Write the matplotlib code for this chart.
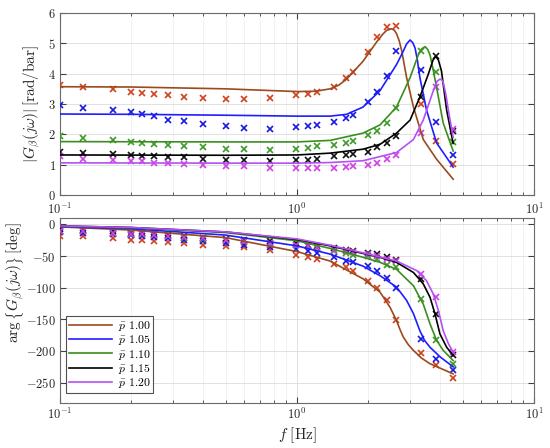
import matplotlib
matplotlib.use("Agg")
import matplotlib.pyplot as plt
from matplotlib.ticker import LogLocator, NullFormatter, FixedLocator

plt.rcParams['font.family'] = 'serif'
plt.rcParams['font.serif'] = ['cmr10', 'DejaVu Serif']
plt.rcParams['mathtext.fontset'] = 'cm'
plt.rcParams['axes.formatter.use_mathtext'] = True
plt.rcParams['axes.unicode_minus'] = False

# ---------------- data ----------------
labels = [r"$\bar{p}$ 1.00", r"$\bar{p}$ 1.05", r"$\bar{p}$ 1.10", r"$\bar{p}$ 1.15", r"$\bar{p}$ 1.20"]
line_colors = ['#9A4A1C', '#1E1EFF', '#3A8E1E', '#000000', '#B450F5']
marker_colors = ['#D2401E', '#1818E0', '#3C9A28', '#111111', '#D040E6']

# measured frequencies [Hz]
f_meas = [0.1, 0.125, 0.167, 0.2, 0.222, 0.25, 0.286, 0.333, 0.4, 0.5, 0.6, 0.77,
          0.99, 1.11, 1.22, 1.43, 1.61, 1.73, 2.0, 2.18, 2.39, 2.62, 3.33, 3.86, 4.56]

# measured magnitudes [rad/bar]
mag_100 = [3.64, 3.57, 3.48, 3.40, 3.37, 3.32, 3.29, 3.23, 3.19, 3.15, 3.15, 3.19,
           3.30, 3.34, 3.41, 3.57, 3.86, 4.07, 4.71, 5.21, 5.53, 5.56, 2.99, 1.78, 1.03]
mag_105 = [2.96, 2.88, 2.79, 2.72, 2.66, 2.59, 2.48, 2.44, 2.35, 2.28, 2.22, 2.19,
           2.25, 2.28, 2.31, 2.42, 2.54, 2.65, 3.05, 3.40, 3.91, 4.75, 4.12, 2.40, 1.31]
mag_110 = [1.95, 1.87, 1.80, 1.75, 1.71, 1.68, 1.64, 1.62, 1.57, 1.53, 1.51, 1.49,
           1.51, 1.54, 1.60, 1.65, 1.71, 1.79, 1.97, 2.11, 2.39, 2.86, 4.75, 4.04, 1.75]
mag_115 = [1.42, 1.38, 1.35, 1.33, 1.30, 1.27, 1.24, 1.24, 1.18, 1.15, 1.15, 1.13,
           1.15, 1.16, 1.20, 1.29, 1.31, 1.35, 1.43, 1.57, 1.71, 1.95, 3.24, 4.58, 2.10]
mag_120 = [1.29, 1.20, 1.16, 1.13, 1.11, 1.07, 1.05, 1.02, 0.99, 0.94, 0.94, 0.88,
           0.88, 0.88, 0.88, 0.88, 0.91, 0.94, 1.00, 1.05, 1.18, 1.33, 2.05, 3.55, 2.17]

# measured phases [deg]
ph_100 = [-18, -19, -21, -24, -25, -27, -28, -30, -32, -34, -36, -40,
          -48, -51, -55, -63, -68, -73, -89, -101, -119, -151, -203, -222, -243]
ph_105 = [-12, -13, -15, -17, -18, -20, -22, -24, -27, -30, -32, -36,
          -39, -42, -45, -52, -58, -60, -66, -73, -84, -100, -181, -213, -230]
ph_110 = [-10, -11, -13, -15, -16, -17, -19, -21, -23, -25, -27, -30,
          -32, -34, -37, -42, -46, -48, -50, -55, -64, -68, -118, -182, -220]
ph_115 = [-8, -9, -11, -13, -14, -15, -17, -19, -21, -23, -24, -27,
          -30, -32, -34, -38, -40, -42, -45, -47, -52, -56, -87, -141, -206]
ph_120 = [-10, -11, -13, -15, -15, -17, -18, -20, -22, -24, -26, -29,
          -33, -34, -36, -40, -42, -44, -47, -50, -55, -58, -79, -114, -202]

# model curves (magnitude)
fm_100 = [0.1, 0.2, 0.5, 1.0, 1.2, 1.38, 1.5, 1.62, 1.9, 2.17, 2.3, 2.39, 2.5, 2.57, 2.63, 2.7, 2.77, 2.9, 3.1, 3.41, 3.88, 4.56]
m_100 = [3.57, 3.56, 3.50, 3.41, 3.42, 3.50, 3.62, 3.82, 4.41, 5.05, 5.30, 5.43, 5.48, 5.44, 5.32, 5.08, 4.73, 3.87, 2.90, 1.83, 1.18, 0.52]
fm_105 = [0.1, 0.2, 0.5, 1.0, 1.38, 1.62, 1.9, 2.24, 2.63, 2.8, 2.9, 3.0, 3.08, 3.15, 3.22, 3.30, 3.52, 3.88, 4.56]
m_105 = [2.67, 2.66, 2.63, 2.60, 2.60, 2.66, 2.90, 3.44, 4.30, 4.72, 4.98, 5.11, 5.02, 4.84, 4.45, 3.87, 2.80, 1.72, 0.92]
fm_110 = [0.1, 0.5, 1.0, 1.38, 1.9, 2.24, 2.63, 3.0, 3.25, 3.36, 3.47, 3.56, 3.64, 3.75, 3.88, 4.14, 4.56]
m_110 = [1.76, 1.75, 1.75, 1.80, 2.04, 2.31, 2.90, 3.87, 4.62, 4.82, 4.89, 4.80, 4.62, 4.15, 3.55, 2.37, 1.45]
fm_115 = [0.1, 0.5, 1.0, 1.38, 1.9, 2.24, 2.63, 3.0, 3.30, 3.58, 3.75, 3.85, 3.95, 4.07, 4.18, 4.28, 4.56]
m_115 = [1.32, 1.31, 1.32, 1.38, 1.51, 1.67, 2.04, 2.47, 3.23, 3.98, 4.45, 4.57, 4.45, 4.09, 3.40, 2.80, 1.70]
fm_120 = [0.1, 0.5, 1.0, 1.38, 1.9, 2.63, 3.10, 3.41, 3.76, 3.90, 4.01, 4.08, 4.14, 4.25, 4.35, 4.56]
m_120 = [1.06, 1.05, 1.05, 1.07, 1.13, 1.40, 1.83, 2.47, 3.44, 3.75, 3.82, 3.80, 3.71, 3.30, 2.80, 1.90]

# model curves (phase)
fp_100 = [0.1, 0.2, 0.5, 1.0, 1.38, 1.9, 2.24, 2.47, 2.63, 2.72, 2.81, 2.95, 3.1, 3.35, 3.64, 4.56]
p_100 = [-4, -9, -21, -43, -58, -86, -107, -131, -152, -166, -178, -190, -199, -211, -220, -236]
fp_105 = [0.1, 0.2, 0.5, 1.0, 1.38, 1.9, 2.24, 2.63, 2.9, 3.1, 3.3, 3.45, 3.64, 4.01, 4.56]
p_105 = [-3.5, -7, -17, -34, -47, -66, -81, -99, -120, -141, -168, -183, -194, -209, -225]
fp_110 = [0.1, 0.2, 0.5, 1.0, 1.38, 1.9, 2.24, 2.63, 3.1, 3.41, 3.64, 3.88, 4.14, 4.56]
p_110 = [-3, -5.5, -13, -26, -38, -52, -60, -71, -97, -126, -157, -183, -199, -215]
fp_115 = [0.1, 0.2, 0.5, 1.0, 1.38, 1.9, 2.24, 2.63, 3.1, 3.41, 3.64, 3.82, 4.01, 4.28, 4.56]
p_115 = [-2.5, -5, -12, -24, -34, -46, -52, -60, -76, -94, -115, -141, -173, -194, -207]
fp_120 = [0.1, 0.2, 0.5, 1.0, 1.38, 1.9, 2.63, 3.2, 3.52, 3.76, 3.95, 4.14, 4.35, 4.56]
p_120 = [-2.5, -5, -12, -23, -33, -45, -58, -73, -89, -110, -136, -168, -188, -202]

mag_meas = [mag_100, mag_105, mag_110, mag_115, mag_120]
ph_meas = [ph_100, ph_105, ph_110, ph_115, ph_120]
mag_f = [fm_100, fm_105, fm_110, fm_115, fm_120]
mag_line = [m_100, m_105, m_110, m_115, m_120]
ph_f = [fp_100, fp_105, fp_110, fp_115, fp_120]
ph_line = [p_100, p_105, p_110, p_115, p_120]

# ---------------- figure ----------------
fig = plt.figure(figsize=(5.5, 4.48), dpi=100)
W, H = 550, 448
ax1 = fig.add_axes([60 / W, 1 - 195 / H, (534 - 60) / W, (195 - 13) / H])
ax2 = fig.add_axes([60 / W, 1 - 403 / H, (534 - 60) / W, (403 - 218) / H])

handles = []
for i in range(5):
    ax1.plot(f_meas, mag_meas[i], 'x', color=marker_colors[i], ms=5, mew=1.2, zorder=3)
    ax1.plot(mag_f[i], mag_line[i], '-', color=line_colors[i], lw=1.2, zorder=4)
    ax2.plot(f_meas, ph_meas[i], 'x', color=marker_colors[i], ms=5, mew=1.2, zorder=3)
    h, = ax2.plot(ph_f[i], ph_line[i], '-', color=line_colors[i], lw=1.2, zorder=4, label=labels[i])
    handles.append(h)

for ax in (ax1, ax2):
    ax.set_xscale('log')
    ax.set_xlim(0.1, 10)
    ax.xaxis.set_major_locator(LogLocator(base=10))
    ax.xaxis.set_minor_locator(LogLocator(base=10, subs=range(2, 10)))
    ax.xaxis.set_minor_formatter(NullFormatter())
    ax.grid(True, which='major', color='#dcdcdc', lw=0.6)
    ax.grid(True, which='minor', axis='x', color='#ececec', lw=0.5)
    ax.set_axisbelow(True)
    ax.tick_params(which='both', direction='in', top=True, right=True,
                   colors='#404040', labelcolor='#262626', labelsize=9, pad=3)
    ax.tick_params(which='major', length=4)
    ax.tick_params(which='minor', length=2)
    for s in ax.spines.values():
        s.set_color('#6a6a6a')
        s.set_linewidth(0.8)

ax1.tick_params(axis='x', which='major', pad=5)

ax1.set_ylim(0, 6)
ax1.yaxis.set_major_locator(FixedLocator([0, 1, 2, 3, 4, 5, 6]))
ax2.set_ylim(-282, 10)
ax2.yaxis.set_major_locator(FixedLocator([0, -50, -100, -150, -200, -250]))

ax1.set_ylabel(r"$|G_\beta(j\omega)|\,\mathrm{[rad/bar]}$", fontsize=11, color='#262626')
ax2.set_ylabel(r"$\arg\left\{G_\beta(j\omega)\right\}\,\mathrm{[deg]}$", fontsize=11, color='#262626')
ax1.yaxis.set_label_coords(-0.036, 0.5)
ax2.yaxis.set_label_coords(-0.072, 0.65)
ax2.set_xlabel(r"$f\ \mathrm{[Hz]}$", fontsize=11, color='#262626', labelpad=2)

leg = ax2.legend(handles=handles, loc='lower left', fontsize=8.5, frameon=True,
                 fancybox=False, edgecolor='#262626', handlelength=3.6,
                 borderpad=0.25, labelspacing=0.02, handletextpad=0.5,
                 borderaxespad=0.0, bbox_to_anchor=(0.013, 0.054))
leg.get_frame().set_linewidth(0.8)

fig.savefig('out.png', dpi=100)
